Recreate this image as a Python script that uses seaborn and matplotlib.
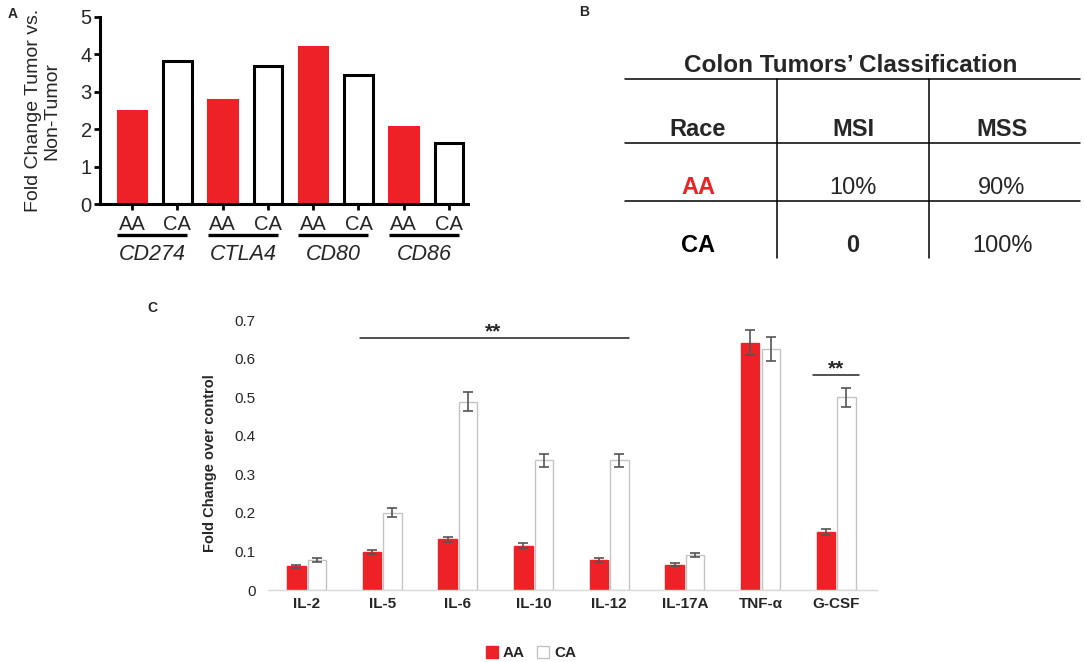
import matplotlib
matplotlib.use("Agg")
import matplotlib.pyplot as plt
from matplotlib.patches import Patch
import seaborn as sns
import pandas as pd

# ---------------- data ----------------
genes = ["CD274", "CTLA4", "CD80", "CD86"]
races = ["AA", "CA"]
fold_aa = [2.49, 2.79, 4.21, 2.07]
fold_ca = [3.82, 3.69, 3.46, 1.64]

table_header = ["Race", "MSI", "MSS"]
table_races = ["AA", "CA"]
table_msi = ["10%", "0"]
table_mss = ["90%", "100%"]

cytokines = ["IL-2", "IL-5", "IL-6", "IL-10", "IL-12", "IL-17A", "TNF-α", "G-CSF"]
cyto_aa = [0.061, 0.099, 0.131, 0.115, 0.078, 0.066, 0.641, 0.151]
cyto_ca = [0.078, 0.200, 0.488, 0.336, 0.336, 0.091, 0.624, 0.500]
err_aa = [0.004, 0.006, 0.007, 0.007, 0.005, 0.004, 0.032, 0.008]
err_ca = [0.005, 0.012, 0.025, 0.017, 0.017, 0.005, 0.031, 0.025]

RED = "#ee2226"

sns.set_theme(style="white")
plt.rcParams["font.family"] = ["Liberation Sans", "DejaVu Sans"]

fig = plt.figure(figsize=(10.84, 6.62), dpi=100)

# overlay axes in pixel coordinates (for table and panel letters)
ov = fig.add_axes([0, 0, 1, 1], zorder=-1)
ov.set_xlim(0, 1084)
ov.set_ylim(662, 0)
ov.axis("off")

# ---------------- panel A ----------------
axA = fig.add_axes([100 / 1084, 1 - 204 / 662, 368 / 1084, 187 / 662])
labels = []
vals = []
rr = []
for g, a, c in zip(genes, fold_aa, fold_ca):
    labels += [g + " AA", g + " CA"]
    vals += [a, c]
    rr += ["AA", "CA"]
dfA = pd.DataFrame({"label": labels, "value": vals, "race": rr})
sns.barplot(data=dfA, x="label", y="value", hue="race", order=labels,
            palette={"AA": RED, "CA": "white"}, dodge=False, width=0.63,
            saturation=1, ax=axA, legend=False, linewidth=2.2)
for cont, ec in zip(axA.containers, [RED, "black"]):
    for b in cont:
        b.set_edgecolor(ec)
        b.set_linewidth(2.2)
axA.set_xlim(-0.71, 7.42)
axA.set_ylim(0, 5)
axA.set_yticks([0, 1, 2, 3, 4, 5])
for s in ["top", "right"]:
    axA.spines[s].set_visible(False)
for s in ["left", "bottom"]:
    axA.spines[s].set_color("black")
    axA.spines[s].set_linewidth(2.2)
axA.set_xticks(range(len(labels)))
axA.set_xticklabels([r for r in rr])
axA.tick_params(axis="both", which="both", direction="out", length=4, width=2,
                color="black", labelsize=14.5, bottom=True, left=True, pad=2)
axA.tick_params(axis="x", pad=4)
axA.set_xlabel("")
axA.set_ylabel("Fold Change Tumor vs.\nNon-Tumor", fontsize=14, linespacing=1.1)
axA.yaxis.set_label_coords(-0.108, 0.5)
trA = axA.get_xaxis_transform()
for i, g in enumerate(genes):
    p0 = 2 * i
    axA.plot([p0 - 0.33, p0 + 1 + 0.22], [-0.168, -0.168], transform=trA,
             color="black", lw=2.4, clip_on=False, solid_capstyle="butt")
    axA.text(p0 + 0.45, -0.268, g, transform=trA, ha="center", va="center",
             fontsize=15.5, style="italic")

# ---------------- panel B (table) ----------------
for y in [79, 143, 201]:
    ov.plot([625, 1080], [y, y], color="black", lw=1.1)
for x in [777, 929]:
    ov.plot([x, x], [79, 258], color="black", lw=1.1)
ov.text(851, 65, "Colon Tumors’ Classification", ha="center", va="center",
        fontsize=17.5, fontweight="bold")
col_x = [698, 853, 1002]
row_y = [130, 188, 246]
for x, h in zip(col_x, table_header):
    ov.text(x, row_y[0], h, ha="center", va="center", fontsize=17, fontweight="bold")
for j, (r, m1, m2) in enumerate(zip(table_races, table_msi, table_mss)):
    y = row_y[j + 1]
    ov.text(col_x[0], y, r, ha="center", va="center", fontsize=17,
            fontweight="bold", color=RED if r == "AA" else "black")
    ov.text(col_x[1], y, m1, ha="center", va="center", fontsize=17,
            fontweight="bold" if r == "CA" else "normal")
    ov.text(col_x[2], y, m2, ha="center", va="center", fontsize=17)

# panel letters
ov.text(13, 14, "A", ha="center", va="center", fontsize=10, fontweight="bold")
ov.text(584, 12, "B", ha="center", va="center", fontsize=10, fontweight="bold")
ov.text(152, 308, "C", ha="center", va="center", fontsize=10, fontweight="bold")

# ---------------- panel C ----------------
axC = fig.add_axes([268 / 1084, 1 - 590 / 662, 609 / 1084, 270 / 662])
dfC = pd.DataFrame({
    "cytokine": cytokines * 2,
    "value": cyto_aa + cyto_ca,
    "race": ["AA"] * len(cytokines) + ["CA"] * len(cytokines),
})
sns.barplot(data=dfC, x="cytokine", y="value", hue="race", order=cytokines,
            hue_order=races, palette={"AA": RED, "CA": "white"}, saturation=1,
            width=0.54, gap=0.1, ax=axC, legend=False, linewidth=1.0)
for cont, ec, errs in zip(axC.containers, [RED, "#c4c4c4"], [err_aa, err_ca]):
    for b, e in zip(cont, errs):
        b.set_edgecolor(ec)
        b.set_linewidth(1.0)
        axC.errorbar(b.get_x() + b.get_width() / 2, b.get_height(), yerr=e,
                     fmt="none", ecolor="#555555", elinewidth=1.2,
                     capsize=3.5, capthick=1.2, zorder=5)
axC.set_xlim(-0.51, 7.54)
axC.set_ylim(0, 0.7)
axC.set_yticks([0, 0.1, 0.2, 0.3, 0.4, 0.5, 0.6, 0.7])
axC.set_yticklabels(["0", "0.1", "0.2", "0.3", "0.4", "0.5", "0.6", "0.7"])
for s in ["top", "right", "left"]:
    axC.spines[s].set_visible(False)
axC.spines["bottom"].set_color("#d9d9d9")
axC.spines["bottom"].set_linewidth(1.0)
axC.tick_params(axis="y", length=0, labelsize=11, pad=9)
axC.tick_params(axis="x", length=0, labelsize=11, pad=5)
for t in axC.get_xticklabels():
    t.set_fontweight("bold")
axC.set_xlabel("")
axC.set_ylabel("Fold Change over control", fontsize=10.5, fontweight="bold")
axC.yaxis.set_label_coords(-0.084, 0.47)

# significance marks
axC.plot([0.70, 4.26], [0.653, 0.653], color="#222222", lw=1.1, clip_on=False)
axC.text(2.47, 0.655, "**", ha="center", va="baseline", fontsize=15,
         fontweight="bold", clip_on=False)
axC.plot([6.70, 7.30], [0.557, 0.557], color="#222222", lw=1.1, clip_on=False)
axC.text(7.0, 0.559, "**", ha="center", va="baseline", fontsize=15,
         fontweight="bold", clip_on=False)

handles = [Patch(facecolor=RED, edgecolor=RED),
           Patch(facecolor="white", edgecolor="#c4c4c4")]
fig.legend(handles=handles, labels=races, loc="center",
           bbox_to_anchor=(531 / 1084, 1 - 653 / 662), ncol=2, frameon=False,
           prop={"weight": "bold", "size": 11}, handlelength=0.8,
           handleheight=0.8, handletextpad=0.3, columnspacing=0.8)

fig.savefig("out.png", dpi=100)
